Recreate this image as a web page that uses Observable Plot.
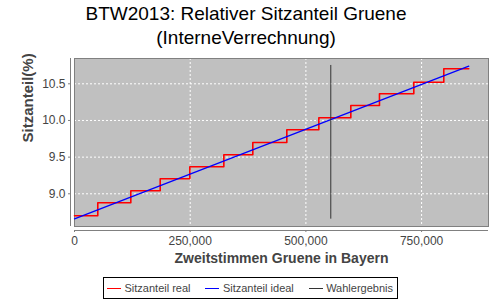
<!DOCTYPE html>
<html>
<head>
<meta charset="utf-8">
<script src="https://cdn.jsdelivr.net/npm/d3@7"></script>
<script src="https://cdn.jsdelivr.net/npm/@observablehq/plot@0.6"></script>
<style>
  body { margin: 0; background: #fff; font-family: "Liberation Sans", sans-serif; }
  #wrap { position: relative; width: 500px; height: 300px; overflow: hidden; }
  #title { position: absolute; left: 0; top: 2px; width: 492px; text-align: center;
           font-size: 19px; line-height: 24.3px; color: #000; white-space: nowrap; }
  #chart { position: absolute; left: 0; top: 0; }
  #legend { position: absolute; left: 103px; top: 277px; width: 286px; height: 20px;
            padding: 0 4px 0 3px;
            border: 1px solid #000; display: flex; align-items: center; justify-content: space-between;
            font-size: 11px; color: #444; white-space: nowrap; }
  .sw { display: inline-block; width: 14px; height: 0; border-top: 1px solid; margin-right: 3.5px; }
  .it { display: flex; align-items: center; }
</style>
</head>
<body>
<div id="wrap">
  <div id="title">BTW2013: Relativer Sitzanteil Gruene<br>(InterneVerrechnung)</div>
  <div id="chart"></div>
  <div id="legend"></div>
</div>
<script>
// Step function (real seat share): x = votes where a level starts, y = level
const realVotes = [0, 50300, 121700, 185200, 249200, 322700, 385300, 458800, 528000, 597100, 659000, 733200, 798000, 852000];
const realShare = [8.70, 8.877, 9.041, 9.205, 9.368, 9.532, 9.70, 9.874, 10.036, 10.205, 10.364, 10.522, 10.705, 10.705];
// Ideal seat share (linear)
const idealVotes = [0, 852000];
const idealShare = [8.659, 10.74];
// Election result marker
const resultVotes = [553800];
const resultShareRange = [8.654, 10.75];

const xTicks = [0, 250000, 500000, 750000];
const yTicks = [9.0, 9.5, 10.0, 10.5];
const xDomain = [0, 894600];
const yDomain = [8.554, 10.845];

const legendItems = [
  {label: "Sitzanteil real", color: "#ff0000"},
  {label: "Sitzanteil ideal", color: "#0000ff"},
  {label: "Wahlergebnis", color: "#333333"}
];

const real = realVotes.map((v, i) => ({x: v, y: realShare[i]}));
const ideal = idealVotes.map((v, i) => ({x: v, y: idealShare[i]}));

const chart = Plot.plot({
  width: 500,
  height: 300,
  marginLeft: 74,
  marginRight: 12,
  marginTop: 58,
  marginBottom: 74,
  style: {fontFamily: "Liberation Sans, sans-serif", fontSize: "12px", color: "#444", background: "transparent"},
  x: {domain: xDomain},
  y: {domain: yDomain},
  marks: [
    Plot.frame({fill: "#c0c0c0", stroke: "#808080"}),
    Plot.gridX(xTicks, {stroke: "#ffffff", strokeOpacity: 1, strokeDasharray: "2,2"}),
    Plot.gridY(yTicks, {stroke: "#ffffff", strokeOpacity: 1, strokeDasharray: "2,2"}),
    Plot.frame({stroke: "#808080"}),
    Plot.ruleY([yDomain[0]], {dy: 4, stroke: "#808080"}),
    Plot.ruleX([xDomain[0]], {dx: -4, stroke: "#808080"}),
    Plot.axisX(xTicks, {dy: 4, tickSize: 2, tickPadding: 4, tickFormat: d3.format(","), stroke: "#808080", fill: "#444", label: null}),
    Plot.axisY(yTicks, {dx: -4, tickSize: 2, tickPadding: 3, tickFormat: d3.format(".1f"), stroke: "#808080", fill: "#444", label: null}),
    Plot.line(real, {x: "x", y: "y", curve: "step-after", stroke: "#ff0000", strokeWidth: 1.6}),
    Plot.line(ideal, {x: "x", y: "y", stroke: "#0000ff", strokeWidth: 1.3}),
    Plot.ruleX(resultVotes, {y1: resultShareRange[0], y2: resultShareRange[1], stroke: "#333", strokeWidth: 1}),
    Plot.text(["Zweitstimmen Gruene in Bayern"], {frameAnchor: "bottom", dy: 36, text: d => d, fontWeight: "bold", fontSize: 14, fill: "#444"}),
    Plot.text(["Sitzanteil(%)"], {frameAnchor: "left", dx: -46, rotate: -90, text: d => d, fontWeight: "bold", fontSize: 15, fill: "#444"})
  ]
});
document.getElementById("chart").appendChild(chart);

const lg = document.getElementById("legend");
for (const it of legendItems) {
  const d = document.createElement("span");
  d.className = "it";
  const s = document.createElement("span");
  s.className = "sw";
  s.style.borderTopColor = it.color;
  d.appendChild(s);
  d.appendChild(document.createTextNode(it.label));
  lg.appendChild(d);
}
</script>
</body>
</html>
